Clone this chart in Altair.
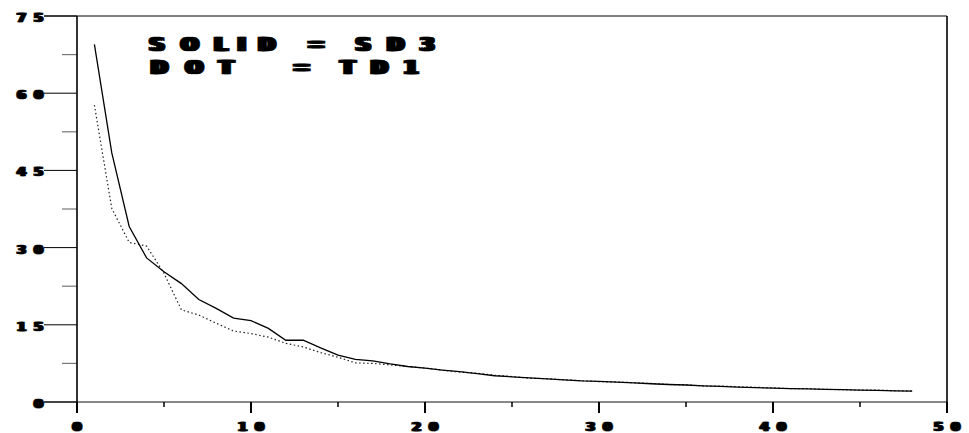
import altair as alt
import pandas as pd

# ---- data ----
x_vals = list(range(1, 49))
sd3 = [69.5, 48.4, 34.1, 28.0, 25.3, 23.0, 19.9, 18.2, 16.3, 15.8, 14.3, 12.0,
       12.0, 10.5, 9.1, 8.3, 8.0, 7.4, 6.9, 6.6, 6.2, 5.9, 5.5, 5.1, 4.9, 4.7,
       4.5, 4.3, 4.1, 4.0, 3.85, 3.7, 3.55, 3.4, 3.3, 3.15, 3.05, 2.9, 2.8, 2.7,
       2.6, 2.55, 2.45, 2.4, 2.3, 2.25, 2.15, 2.1]
td1 = [57.7, 37.6, 31.0, 30.3, 25.0, 17.9, 16.9, 15.3, 13.8, 13.3, 12.6, 11.4,
       10.7, 9.6, 8.7, 7.6, 7.5, 7.2, 6.9, 6.6, 6.2, 5.8, 5.6, 5.2, 4.95, 4.6,
       4.55, 4.3, 4.15, 3.95, 3.9, 3.75, 3.6, 3.4, 3.35, 3.1, 3.1, 2.95, 2.85,
       2.75, 2.6, 2.6, 2.45, 2.4, 2.3, 2.3, 2.2, 2.15]
x_major = [0, 10, 20, 30, 40, 50]
x_minor = [5, 15, 25, 35, 45]
y_major = [0, 15, 30, 45, 60, 75]
y_minor = [7.5, 22.5, 37.5, 52.5, 67.5]
legend_lines = ["SOLID = SD3", "DOT   = TD1"]

W, H = 870, 386
FONT = "DejaVu Sans"

xs = alt.Scale(domain=[0, 50], nice=False, zero=False)
ys = alt.Scale(domain=[0, 75], nice=False, zero=False)
X = lambda f: alt.X(f, type="quantitative", scale=xs, axis=None)
Y = lambda f: alt.Y(f, type="quantitative", scale=ys, axis=None)

lines_df = pd.DataFrame({"x": x_vals, "sd3": sd3, "td1": td1})
base = alt.Chart(lines_df)

solid = base.mark_line(color="black", strokeWidth=1.3).encode(x=X("x"), y=Y("sd3"))
dot = base.mark_line(color="#222222", strokeWidth=1.2, strokeDash=[1.5, 2.5]).encode(
    x=X("x"), y=Y("td1"))

# ---- frame and ticks ----
xmaj = alt.Chart(pd.DataFrame({"v": x_major})).mark_rule(color="black", strokeWidth=2).encode(
    x=X("v"), y=alt.value(H), y2=alt.value(H + 11))
xmin = alt.Chart(pd.DataFrame({"v": x_minor})).mark_rule(color="black", strokeWidth=1.5).encode(
    x=X("v"), y=alt.value(H), y2=alt.value(H + 5))
ymaj = alt.Chart(pd.DataFrame({"v": y_major})).mark_rule(color="black", strokeWidth=1).encode(
    y=Y("v"), x=alt.value(-33), x2=alt.value(0))
ymin = alt.Chart(pd.DataFrame({"v": y_minor})).mark_rule(color="#777777", strokeWidth=1.2).encode(
    y=Y("v"), x=alt.value(-15), x2=alt.value(0))

bottom = alt.Chart(pd.DataFrame({"v": [0]})).mark_rule(color="#888888", strokeWidth=2).encode(
    y=Y("v"), x=alt.value(-33), x2=alt.value(W))
top = alt.Chart(pd.DataFrame({"v": [75]})).mark_rule(color="black", strokeWidth=1).encode(
    y=Y("v"), x=alt.value(-33), x2=alt.value(W))
sides = alt.Chart(pd.DataFrame({"v": [0, 50]})).mark_rule(color="black", strokeWidth=1.6).encode(
    x=X("v"), y=alt.value(0), y2=alt.value(H + 11))

# The reference face is a very wide black sans: each glyph is laid down a few
# times side by side to widen it.
PITCH = 17
TK = dict(font=FONT, fontWeight="bold", fontSize=13, baseline="middle", align="center",
          stroke="black", strokeWidth=0.35)
TICK_SMEAR = (-1.6, 0.0, 1.6)

# x tick labels: glyph by glyph, positioned through the x scale
xl_rows = []
for v in x_major:
    s = str(v)
    n = len(s)
    for i, c in enumerate(s):
        xl_rows.append({"v": v, "c": c, "slot": f"{n}-{i}"})
xl_df = pd.DataFrame(xl_rows)
slot_dx = {"1-0": 0.0, "2-0": -PITCH / 2, "2-1": PITCH / 2}
xlab_layers = []
for slot, sdx in slot_dx.items():
    sub = xl_df[xl_df["slot"] == slot]
    if len(sub) == 0:
        continue
    for e in TICK_SMEAR:
        xlab_layers.append(alt.Chart(sub).mark_text(dx=sdx + e, **TK).encode(
            x=X("v"), y=alt.value(H + 25), text="c:N"))

# y tick labels: right-aligned, glyph by glyph
yl_rows = []
for v in y_major:
    s = str(v)
    n = len(s)
    for i, c in enumerate(s):
        yl_rows.append({"v": v, "c": c, "px": -38.5 - (n - 1 - i) * PITCH})
yl_df = pd.DataFrame(yl_rows)
ylab_layers = [alt.Chart(yl_df).mark_text(dx=e, dy=2, **TK).encode(
    y=Y("v"), x=alt.X("px:Q", scale=None), text="c:N") for e in TICK_SMEAR]

# ---- in-plot legend text ----
ADV = {"S": .720, "O": .850, "L": .637, "I": .372, "D": .830, " ": .348,
       "=": .838, "3": .696, "T": .682, "1": .696}
PX_PER_EM = 41.7
lg_rows = []
for li, line in enumerate(legend_lines):
    pos = 65.0
    for c in line:
        w = ADV.get(c, .7) * PX_PER_EM
        if c != " ":
            lg_rows.append({"c": c, "px": pos + w / 2, "py": 29 + li * 23})
        pos += w
lg_df = pd.DataFrame(lg_rows)
legend_layers = [alt.Chart(lg_df).mark_text(
    font=FONT, fontWeight="bold", fontSize=20, baseline="middle", align="center",
    stroke="black", strokeWidth=0.6, dx=e).encode(
    x=alt.X("px:Q", scale=None), y=alt.Y("py:Q", scale=None), text="c:N")
    for e in (-2.5, 0.0, 2.5)]

chart = alt.layer(bottom, top, ymin, ymaj, xmin, xmaj, sides, dot, solid,
                  *xlab_layers, *ylab_layers, *legend_layers).properties(
    width=W, height=H,
    padding={"left": 77, "top": 16, "right": 22, "bottom": 31},
    autosize=alt.AutoSizeParams(type="none"),
    background="white",
).configure_view(stroke=None)

chart.save("out.html", embed_options={"renderer": "svg", "actions": False})
